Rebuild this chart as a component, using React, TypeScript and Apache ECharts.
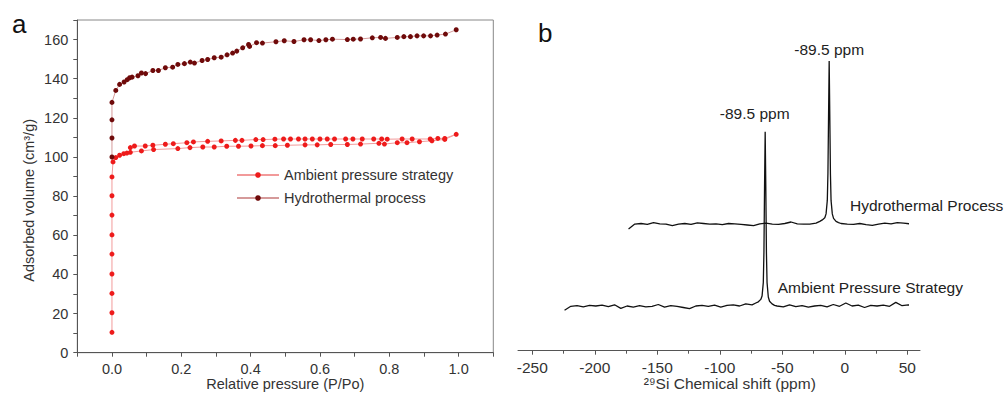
import React, { useEffect, useRef } from "react";
import * as echarts from "echarts";

const FONT = "'Liberation Sans', Arial, Helvetica, sans-serif";

// ---- Panel a: N2 adsorption isotherms ----
const ambientPressure = [
  0, 0, 0, 0, 0, 0, 0, 0, 0, 0.003, 0.011, 0.022, 0.034, 0.043, 0.053, 0.085, 0.12, 0.19, 0.225, 0.262,
  0.295, 0.331, 0.365, 0.401, 0.434, 0.471, 0.506, 0.557, 0.592, 0.631, 0.679, 0.717, 0.77, 0.786, 0.823,
  0.851, 0.887, 0.923, 0.96, 0.993,
  0.96, 0.94, 0.918, 0.866, 0.837, 0.794, 0.778, 0.755, 0.722, 0.695, 0.674, 0.642, 0.621, 0.6, 0.578,
  0.557, 0.538, 0.515, 0.495, 0.47, 0.436, 0.415, 0.375, 0.356, 0.315, 0.276, 0.235, 0.216, 0.177, 0.154,
  0.118, 0.096, 0.065, 0.053,
];
const ambientVolume = [
  10.4, 20.4, 30.3, 40.2, 50.4, 60.2, 70.3, 80.2, 89.8, 97.5, 99.7, 100.9, 101.7, 102.0, 102.4, 103.1, 103.8,
  104.3, 104.8, 105.1, 105.1, 105.5, 105.5, 105.6, 105.8, 105.8, 106.0, 106.2, 106.2, 106.4, 106.4, 106.6,
  107.0, 106.6, 107.3, 107.3, 107.8, 108.3, 109.0, 111.6,
  109.5, 109.5, 109.2, 109.2, 109.2, 109.1, 109.2, 109.2, 109.2, 109.2, 109.2, 109.2, 109.2, 109.2, 109.2,
  109.2, 109.2, 109.2, 109.2, 109.1, 108.9, 108.9, 108.5, 108.5, 108.2, 108.0, 107.7, 107.3, 106.8, 106.5,
  106.0, 105.6, 105.6, 104.8,
];
const hydroPressure = [
  0, 0, 0, 0, 0.011, 0.022, 0.035, 0.044, 0.051, 0.058, 0.075, 0.085, 0.097, 0.118, 0.134, 0.154, 0.175,
  0.19, 0.209, 0.226, 0.238, 0.26, 0.276, 0.295, 0.315, 0.332, 0.348, 0.36, 0.377, 0.394, 0.397, 0.417,
  0.434, 0.473, 0.497, 0.525, 0.554, 0.573, 0.597, 0.617, 0.636, 0.679, 0.696, 0.717, 0.751, 0.775, 0.789,
  0.823, 0.842, 0.861, 0.88, 0.899, 0.919, 0.938, 0.962, 0.993,
];
const hydroVolume = [
  100, 109.7, 119, 127.9, 134.0, 137.1, 138.3, 139.5, 140.5, 140.8, 141.5, 142.9, 142.6, 144.2, 144.2, 145.6,
  145.9, 147.3, 147.7, 148.5, 148.0, 149.3, 149.8, 150.7, 151.0, 152.2, 153.1, 154.1, 155.8, 157.5, 156.5,
  158.4, 158.2, 158.9, 159.4, 159.0, 159.9, 159.9, 159.5, 159.9, 160.2, 160.0, 160.2, 160.3, 160.9, 161.1,
  160.6, 161.1, 161.5, 161.5, 161.9, 161.9, 161.9, 162.3, 162.8, 165.0,
];
const seriesNamesA = ["Ambient pressure strategy", "Hydrothermal process"];

// ---- Panel b: 29Si NMR spectra (true ppm, stacked with offsets) ----
const shiftPpm = [
  -250, -245, -240, -235, -230, -225, -220, -215, -210, -205, -200, -195, -190, -185, -180, -175, -170, -165,
  -160, -155, -150, -145, -140, -135, -130, -125, -120, -115, -110, -105, -100,
  -97, -95, -93, -92, -91, -90.5, -90, -89.5, -89, -88.5, -88, -87, -86, -84, -82, -80,
  -75, -70, -65, -60, -55, -50, -45, -40, -35, -30, -25, -20, -15, -10, -5, 0, 5, 10, 15, 20, 25, 30, 35, 40,
  45, 50,
];
const ambientIntensity = [
  -1.2, 0.1, 0.3, -0.1, 0.4, 0.2, 0.5, 0.0, 0.6, -0.6, 0.2, -0.2, 0.3, -0.1, 0.1, 0.7, -0.2, 0.3, 0.1, -0.3,
  -0.7, 0.2, 0.4, 0.1, 0.5, -0.2, 0.4, 0.6, 0.2, 0.9, 0.6,
  1.2, 1.6, 2.4, 3.5, 8, 18, 40, 58.3, 40, 18, 8, 3.2, 1.8, 0.9, 0.4, 0.2,
  -0.1, 0.6, 0.0, 0.3, -0.2, 0.2, 0.4, -0.1, 0.7, 0.1, 1.2, 0.2, 0.5, -0.3, 0.4, 0.2, 0.5, 0.1, 1.4, 0.3,
  0.6, -0.1, 0.3, 0.0, 0.2, -0.6,
];
const hydroIntensity = [
  -1.5, 0.1, 0.3, 0.0, 0.6, 0.2, 0.1, -0.4, 0.1, 0.3, 0.0, 0.5, 0.3, 0.1, 0.2, -0.1, 0.3, 0.2, 0.0, -0.2,
  -0.4, 0.2, 0.4, 0.1, 0.0, 0.3, 0.8, 0.2, 0.1, 0.1, 0.4,
  1.0, 1.5, 2.2, 3.5, 8, 17, 36, 54.5, 36, 17, 8, 3.5, 2.0, 1.0, 0.6, 0.3,
  0.1, 0.0, 0.3, -0.1, -0.3, 0.1, 0.4, 0.2, 0.6, 0.4, 0.2, 0.0, 0.3, 0.5, 0.8, 0.3, 0.1, 0.4, 0.2, 0.5,
  0.3, 0.9, 0.4, 0.6, 0.3, -1.4,
];
const peakLabel = "-89.5 ppm";
const spectrumNames = ["Ambient Pressure Strategy", "Hydrothermal Process"];
const shiftTicks = [-250, -200, -150, -100, -50, 0, 50];

// stacking offsets of the stacked-spectrum display (layout)
const ambientOffsetX = 25.8;
const ambientOffsetY = 14.7;
const hydroOffsetX = 77;
const hydroOffsetY = 42.1;

export default function App() {
  const ref = useRef<HTMLDivElement>(null);

  useEffect(() => {
    document.body.style.margin = "0";
    const chart = echarts.init(ref.current as HTMLDivElement, undefined, { renderer: "svg" });

    const spectrum = (intens: number[], dx: number, dy: number) =>
      shiftPpm.map((p, i) => [p + dx, intens[i] + dy]);
    const peakIdx = (arr: number[]) => arr.indexOf(Math.max(...arr));
    const aPeak = peakIdx(ambientIntensity);
    const hPeak = peakIdx(hydroIntensity);

    const axisColor = "#555";
    const textColor = "#333";

    const option: any = {
      animation: false,
      backgroundColor: "#fff",
      textStyle: { fontFamily: FONT },
      grid: [
        {
          left: 77.3, right: 512.7, top: 20, bottom: 41.3, show: true, borderColor: "#888", borderWidth: 1,
          backgroundColor: "transparent", outerBoundsMode: "none", containLabel: false,
        },
        { left: 532.3, right: 98.7, top: 50.7, bottom: 43.3, outerBoundsMode: "none", containLabel: false },
        { left: 518, right: 86, top: 50.7, bottom: 43.3, outerBoundsMode: "none", containLabel: false },
      ],
      xAxis: [
        {
          type: "value",
          gridIndex: 0,
          min: -0.1,
          max: 1.1,
          interval: 0.1,
          name: "Relative pressure (P/Po)",
          nameLocation: "middle",
          nameGap: 24,
          nameMoveOverlap: false,
          nameTextStyle: { fontSize: 14.5, color: textColor, fontFamily: FONT },
          axisLine: { show: true, onZero: false, lineStyle: { color: axisColor, width: 1 } },
          axisTick: { show: true, inside: false, length: 4, lineStyle: { color: axisColor } },
          axisLabel: {
            margin: 9,
            fontSize: 14.5,
            color: textColor,
            fontFamily: FONT,
            formatter: (v: number) => {
              const k = Math.round(v * 10);
              return k >= 0 && k <= 10 && k % 2 === 0 ? (k / 10).toFixed(1) : "";
            },
          },
          splitLine: { show: false },
        },
        {
          type: "value",
          gridIndex: 1,
          min: -250,
          max: 50,
          interval: 50,
          name: "²⁹Si Chemical shift (ppm)",
          nameLocation: "middle",
          nameGap: 25,
          nameMoveOverlap: false,
          nameTextStyle: { fontSize: 15.5, color: textColor, fontFamily: FONT, padding: [0, 0, 0, 20] },
          axisLine: { show: false },
          axisTick: { show: true, inside: false, length: 4, lineStyle: { color: axisColor } },
          minorTick: { show: true, splitNumber: 2, length: 3, lineStyle: { color: axisColor } },
          axisLabel: {
            margin: 9,
            fontSize: 15.5,
            color: textColor,
            fontFamily: FONT,
            formatter: (v: number) => (shiftTicks.includes(Math.round(v)) ? String(Math.round(v)) : ""),
          },
          splitLine: { show: false },
          minorSplitLine: { show: false },
        },
        {
          type: "value",
          gridIndex: 2,
          min: 0,
          max: 1,
          axisLine: { show: true, onZero: false, lineStyle: { color: axisColor, width: 1 } },
          axisTick: { show: false },
          axisLabel: { show: false },
          splitLine: { show: false },
        },
      ],
      yAxis: [
        {
          type: "value",
          gridIndex: 0,
          min: 0,
          max: 170,
          interval: 10,
          name: "Adsorbed volume (cm³/g)",
          nameLocation: "middle",
          nameGap: 41,
          nameRotate: 90,
          nameMoveOverlap: false,
          nameTextStyle: { fontSize: 14.5, color: textColor, fontFamily: FONT, padding: [0, 28, 0, 0] },
          axisLine: { show: true, onZero: false, lineStyle: { color: axisColor, width: 1 } },
          axisTick: { show: true, inside: false, length: 4, lineStyle: { color: axisColor } },
          axisLabel: {
            margin: 9,
            fontSize: 14.5,
            color: textColor,
            fontFamily: FONT,
            formatter: (v: number) => (v % 20 === 0 && v <= 160 ? String(v) : ""),
          },
          splitLine: { show: false },
        },
        { type: "value", gridIndex: 1, min: 0, max: 100, show: false },
        { type: "value", gridIndex: 2, min: 0, max: 1, show: false },
      ],
      legend: {
        data: seriesNamesA,
        orient: "vertical",
        left: 231,
        top: 162.5,
        itemWidth: 42,
        itemHeight: 7,
        itemGap: 8,
        textStyle: { fontSize: 14.5, color: textColor, fontFamily: FONT },
      },
      series: [
        {
          type: "line",
          name: seriesNamesA[0],
          xAxisIndex: 0,
          yAxisIndex: 0,
          data: ambientPressure.map((p, i) => [p, ambientVolume[i]]),
          symbol: "circle",
          symbolSize: 5,
          itemStyle: { color: "#ee1b1b" },
          lineStyle: { color: "#f29a9a", width: 1 },
          silent: true,
        },
        {
          type: "line",
          name: seriesNamesA[1],
          xAxisIndex: 0,
          yAxisIndex: 0,
          data: hydroPressure.map((p, i) => [p, hydroVolume[i]]),
          symbol: "circle",
          symbolSize: 5,
          itemStyle: { color: "#6f0a0a" },
          lineStyle: { color: "#d59a9a", width: 1 },
          silent: true,
        },
        {
          type: "line",
          name: spectrumNames[0],
          xAxisIndex: 1,
          yAxisIndex: 1,
          data: spectrum(ambientIntensity, ambientOffsetX, ambientOffsetY),
          showSymbol: false,
          symbol: "none",
          clip: false,
          lineStyle: { color: "#111", width: 1.3 },
          silent: true,
          markPoint: {
            symbol: "circle",
            symbolSize: 0,
            silent: true,
            data: [
              {
                coord: [shiftPpm[aPeak] + ambientOffsetX, ambientIntensity[aPeak] + ambientOffsetY],
                label: {
                  show: true,
                  position: "inside",
                  offset: [-10.5, -18.7],
                  formatter: peakLabel,
                  fontSize: 15.5,
                  color: "#222",
                  fontFamily: FONT,
                },
              },
            ],
          },
        },
        {
          type: "line",
          name: spectrumNames[1],
          xAxisIndex: 1,
          yAxisIndex: 1,
          data: spectrum(hydroIntensity, hydroOffsetX, hydroOffsetY),
          showSymbol: false,
          symbol: "none",
          clip: false,
          lineStyle: { color: "#111", width: 1.3 },
          silent: true,
          markPoint: {
            symbol: "circle",
            symbolSize: 0,
            silent: true,
            data: [
              {
                coord: [shiftPpm[hPeak] + hydroOffsetX, hydroIntensity[hPeak] + hydroOffsetY],
                label: {
                  show: true,
                  position: "inside",
                  offset: [0, -11.5],
                  formatter: peakLabel,
                  fontSize: 15.5,
                  color: "#222",
                  fontFamily: FONT,
                },
              },
            ],
          },
        },
      ],
      graphic: [
        { type: "text", left: 12, top: 11, style: { text: "a", fontSize: 26, fill: "#111", fontFamily: FONT } },
        { type: "text", left: 538, top: 20, style: { text: "b", fontSize: 26, fill: "#111", fontFamily: FONT } },
        {
          type: "text",
          x: 850,
          y: 205,
          style: { text: spectrumNames[1], fontSize: 15.5, fill: "#222", fontFamily: FONT, verticalAlign: "middle" },
        },
        {
          type: "text",
          x: 777.7,
          y: 287.7,
          style: { text: spectrumNames[0], fontSize: 15.5, fill: "#222", fontFamily: FONT, verticalAlign: "middle" },
        },
      ],
    };

    chart.setOption(option);
    return () => chart.dispose();
  }, []);

  return <div ref={ref} style={{ width: 1006, height: 394, background: "#fff" }} />;
}
